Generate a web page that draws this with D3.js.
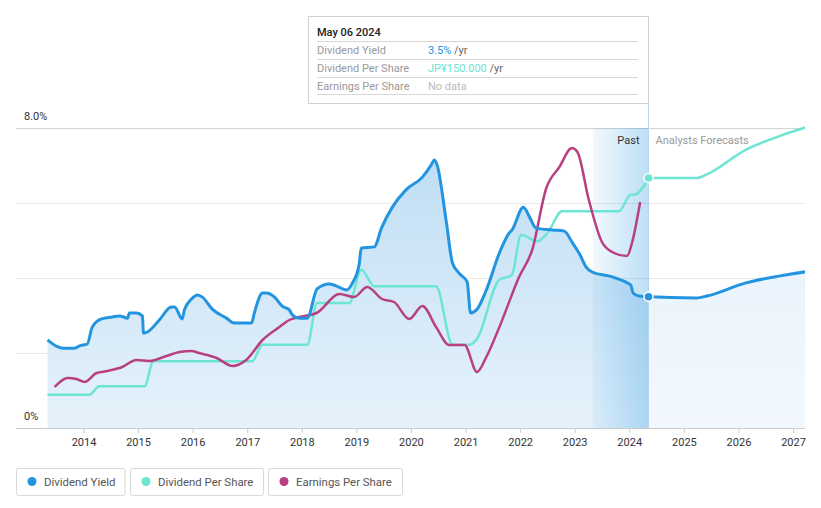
<!DOCTYPE html>
<html><head><meta charset="utf-8">
<script src="https://cdn.jsdelivr.net/npm/d3@7"></script>
<style>
html,body{margin:0;padding:0;background:#fff;}
svg{display:block;font-family:Roboto,"Noto Sans",sans-serif;}
</style></head>
<body><svg id="c" width="821" height="508"></svg>
<script>
// ---- data (decimal years) ----
const yieldYears = [2013.34,2013.52,2013.62,2013.84,2013.93,2014.07,2014.16,2014.33,2014.53,2014.66,2014.81,2014.84,2014.97,2015.08,2015.10,2015.17,2015.39,2015.61,2015.67,2015.81,2015.85,2015.98,2016.09,2016.18,2016.36,2016.62,2016.76,2017.08,2017.13,2017.28,2017.35,2017.50,2017.64,2017.77,2017.83,2017.95,2018.10,2018.28,2018.50,2018.63,2018.82,2018.93,2019.05,2019.09,2019.33,2019.46,2019.66,2019.91,2020.21,2020.37,2020.43,2020.48,2020.65,2020.76,2020.88,2021.03,2021.09,2021.20,2021.38,2021.62,2021.80,2021.85,2022.06,2022.17,2022.29,2022.59,2022.81,2022.95,2023.09,2023.21,2023.32,2023.69,2023.94,2024.03,2024.07,2024.18,2024.355];
const yieldValues = [2.35,2.17,2.13,2.13,2.19,2.24,2.69,2.91,2.96,2.99,2.93,3.07,3.07,2.99,2.53,2.56,2.88,3.23,3.23,2.91,3.15,3.44,3.55,3.49,3.17,2.93,2.80,2.80,3.07,3.60,3.60,3.49,3.25,3.15,3.01,2.93,2.93,3.71,3.84,3.79,3.68,3.87,4.35,4.80,4.83,5.33,5.89,6.35,6.69,7.01,7.15,7.01,5.47,4.40,4.13,3.89,3.07,3.15,3.68,4.67,5.20,5.28,5.89,5.63,5.33,5.28,5.25,4.96,4.64,4.29,4.16,4.03,3.89,3.81,3.60,3.52,3.50];
const yieldFcYears = [2024.355,2025.24,2025.42,2026.14,2026.74,2027.25];
const yieldFcValues = [3.50,3.47,3.52,3.87,4.05,4.17];

const dpsYears = [2013.34,2014.11,2014.29,2015.12,2015.28,2017.09,2017.28,2018.10,2018.28,2018.87,2019.09,2019.33,2020.46,2020.76,2021.07,2021.20,2021.62,2021.80,2021.85,2022.02,2022.31,2022.50,2022.77,2023.81,2024.03,2024.09,2024.355];
const dpsValues = [20,20,25,25,40,40,50,50,75,75,95,85,85,50,50,53,89,91,92,116,112,117,130,130,140,140,150];
const dpsFcYears = [2024.355,2025.24,2025.41,2026.14,2026.74,2027.25];
const dpsFcValues = [150,150,152,167,175,180.5];

const epsYears = [2013.47,2013.71,2013.87,2014.02,2014.24,2014.44,2014.71,2014.97,2015.21,2015.52,2015.76,2015.98,2016.12,2016.44,2016.73,2016.98,2017.28,2017.59,2017.77,2017.95,2018.27,2018.69,2018.96,2019.20,2019.47,2019.69,2019.97,2020.21,2020.46,2020.70,2020.98,2021.21,2021.38,2021.62,2021.98,2022.22,2022.48,2022.72,2022.95,2023.05,2023.26,2023.50,2023.69,2023.96,2024.05,2024.20];
const epsValues = [82,100,98,92,110,114,122,136,134,144,152,154,150,140,124,136,176,202,216,222,230,268,262,282,258,252,218,244,202,166,166,112,142,202,302,356,480,522,560,552,456,372,352,344,370,452];

const yearTicks = [2014,2015,2016,2017,2018,2019,2020,2021,2022,2023,2024,2025,2026,2027];
const yTickValues = [0,2,4,6,8];
const legendLabels = ["Dividend Yield","Dividend Per Share","Earnings Per Share"];
const legendColors = ["#2394df","#6ce5d2","#b8407f"];

// ---- helpers ----
function dy(y){const yr=Math.floor(y);const a=Date.UTC(yr,0,1),b=Date.UTC(yr+1,0,1);return new Date(a+(y-yr)*(b-a));}
const svg = d3.select("#c");
const L=16,R=805,T=128,B=428;
const x = d3.scaleUtc().domain([dy(2014),dy(2027)]).range([83.5,793]);
const yY = d3.scaleLinear().domain([0,8]).range([B,T]);
const yD = d3.scaleLinear().domain([0,180]).range([B,T]);
const yE = d3.scaleLinear().domain([0,600]).range([B,T]);
const nowX = Math.round(x(dy(2024.355)))-0.5;
const pastStartX = x(dy(2023.33));

const defs = svg.append("defs");
const g1 = defs.append("linearGradient").attr("id","pastFill").attr("gradientUnits","userSpaceOnUse").attr("x1",0).attr("x2",0).attr("y1",T).attr("y2",B);
g1.append("stop").attr("offset",0).attr("stop-color","#bcdcf4");
g1.append("stop").attr("offset",1).attr("stop-color","#e6f2fb");
const g2 = defs.append("linearGradient").attr("id","fcFill").attr("gradientUnits","userSpaceOnUse").attr("x1",0).attr("x2",0).attr("y1",T).attr("y2",B);
g2.append("stop").attr("offset",0).attr("stop-color","#e3f0fb");
g2.append("stop").attr("offset",1).attr("stop-color","#f2f8fd");
const g3 = defs.append("linearGradient").attr("id","band").attr("x1",0).attr("x2",1).attr("y1",0).attr("y2",0);
g3.append("stop").attr("offset",0).attr("stop-color","#2394df").attr("stop-opacity",0.06);
g3.append("stop").attr("offset",1).attr("stop-color","#2394df").attr("stop-opacity",0.3);
defs.append("clipPath").attr("id","clip").append("rect").attr("x",L).attr("y",T-10).attr("width",R-L).attr("height",B-T+10);

// gridlines
svg.append("g").selectAll("line").data(yTickValues).join("line")
  .attr("x1",L).attr("x2",R).attr("y1",d=>yY(d)+0.5).attr("y2",d=>yY(d)+0.5)
  .attr("stroke",d=>d===8?"#d3d3d3":(d===0?"#cccccc":"#e8e8e8")).attr("stroke-width",1);

const ptsY = yieldYears.map((t,i)=>[dy(t),yieldValues[i]]);
const ptsYF = yieldFcYears.map((t,i)=>[dy(t),yieldFcValues[i]]);
const ptsD = dpsYears.map((t,i)=>[dy(t),dpsValues[i]]);
const ptsDF = dpsFcYears.map((t,i)=>[dy(t),dpsFcValues[i]]);
const ptsE = epsYears.map((t,i)=>[dy(t),epsValues[i]]);

const cg = svg.append("g").attr("clip-path","url(#clip)");
const curve = d3.curveMonotoneX;
cg.append("path").datum(ptsY).attr("fill","url(#pastFill)")
  .attr("d",d3.area().curve(curve).x(d=>x(d[0])).y0(B).y1(d=>yY(d[1])));
cg.append("path").datum(ptsYF).attr("fill","url(#fcFill)")
  .attr("d",d3.area().curve(curve).x(d=>x(d[0])).y0(B).y1(d=>yY(d[1])));
// past band
cg.append("rect").attr("x",pastStartX).attr("y",T).attr("width",nowX-pastStartX).attr("height",B-T).attr("fill","url(#band)");

const lineOf = (ys)=>d3.line().curve(curve).x(d=>x(d[0])).y(d=>ys(d[1]));
cg.append("path").datum(ptsD).attr("fill","none").attr("stroke","#6ce5d2").attr("stroke-width",2.5).attr("d",lineOf(yD));
cg.append("path").datum(ptsDF).attr("fill","none").attr("stroke","#6ce5d2").attr("stroke-width",2.5).attr("d",lineOf(yD));
cg.append("path").datum(ptsE).attr("fill","none").attr("stroke","#b8407f").attr("stroke-width",2.5).attr("d",lineOf(yE));
cg.append("path").datum(ptsY).attr("fill","none").attr("stroke","#2394df").attr("stroke-width",3).attr("d",lineOf(yY));
cg.append("path").datum(ptsYF).attr("fill","none").attr("stroke","#2394df").attr("stroke-width",3).attr("d",lineOf(yY));

// vertical now line
svg.append("line").attr("x1",nowX).attr("x2",nowX).attr("y1",16).attr("y2",B).attr("stroke","#bcd5ec").attr("stroke-width",1);

// end dots
svg.append("circle").attr("cx",nowX).attr("cy",yD(150)).attr("r",4.5).attr("fill","#6ce5d2").attr("stroke","#fff").attr("stroke-width",1.5);
svg.append("circle").attr("cx",nowX).attr("cy",yY(3.5)).attr("r",4.5).attr("fill","#2394df").attr("stroke","#fff").attr("stroke-width",1.5);

// labels Past / Forecasts
svg.append("text").attr("x",nowX-9).attr("y",144).attr("text-anchor","end").attr("font-size",11).attr("fill","#333").text("Past");
svg.append("text").attr("x",nowX+7).attr("y",144).attr("font-size",11).attr("fill","#999").text("Analysts Forecasts");

// y labels
svg.append("text").attr("x",24).attr("y",120).attr("font-size",11).attr("fill","#333").text("8.0%");
svg.append("text").attr("x",24).attr("y",420).attr("font-size",11).attr("fill","#333").text("0%");

// x axis
const ax = svg.append("g").attr("transform",`translate(0,${B})`)
  .call(d3.axisBottom(x).tickValues(yearTicks.map(dy)).tickSize(5).tickPadding(5).tickFormat(d3.utcFormat("%Y")));
ax.select(".domain").remove();
ax.selectAll("line").attr("stroke","#ccc");
ax.selectAll("text").attr("font-size",11).attr("fill","#333").attr("font-family","Roboto,sans-serif");

// tooltip
const tt = svg.append("g");
tt.append("rect").attr("x",308.5).attr("y",16.5).attr("width",nowX-308.5).attr("height",87).attr("fill","#fff").attr("stroke","#d0d0d0");
tt.append("text").attr("x",317).attr("y",36).attr("font-size",11).attr("font-weight",500).attr("fill","#222").text("May 06 2024");
[41.5,59.5,77.5,94.5].forEach(yy=>tt.append("line").attr("x1",317).attr("x2",638).attr("y1",yy).attr("y2",yy).attr("stroke","#d8d8d8"));
const rows = [["Dividend Yield","3.5%","#2394df"," /yr"],["Dividend Per Share","JP¥150.000","#6ce5d2"," /yr"],["Earnings Per Share","No data","#bbbbbb",""]];
rows.forEach((r,i)=>{
  const yy = 53.5+i*18;
  tt.append("text").attr("x",317).attr("y",yy).attr("font-size",11).attr("fill","#999").text(r[0]);
  const t = tt.append("text").attr("x",428).attr("y",yy).attr("font-size",11);
  t.append("tspan").attr("fill",r[2]).text(r[1]);
  if(r[3]) t.append("tspan").attr("fill","#666").text(r[3]);
});

// legend
const lx=[16.5,130.5,268.5], lw=[108.5,133,134];
legendLabels.forEach((lab,i)=>{
  const g = svg.append("g");
  g.append("rect").attr("x",lx[i]).attr("y",468.5).attr("width",lw[i]).attr("height",27).attr("rx",2).attr("fill","#fff").attr("stroke","#d9d9d9");
  g.append("circle").attr("cx",lx[i]+15.5).attr("cy",481.5).attr("r",4.5).attr("fill",legendColors[i]);
  g.append("text").attr("x",lx[i]+27.5).attr("y",485.5).attr("font-size",11.4).attr("fill","#555").text(lab);
});
</script></body></html>
